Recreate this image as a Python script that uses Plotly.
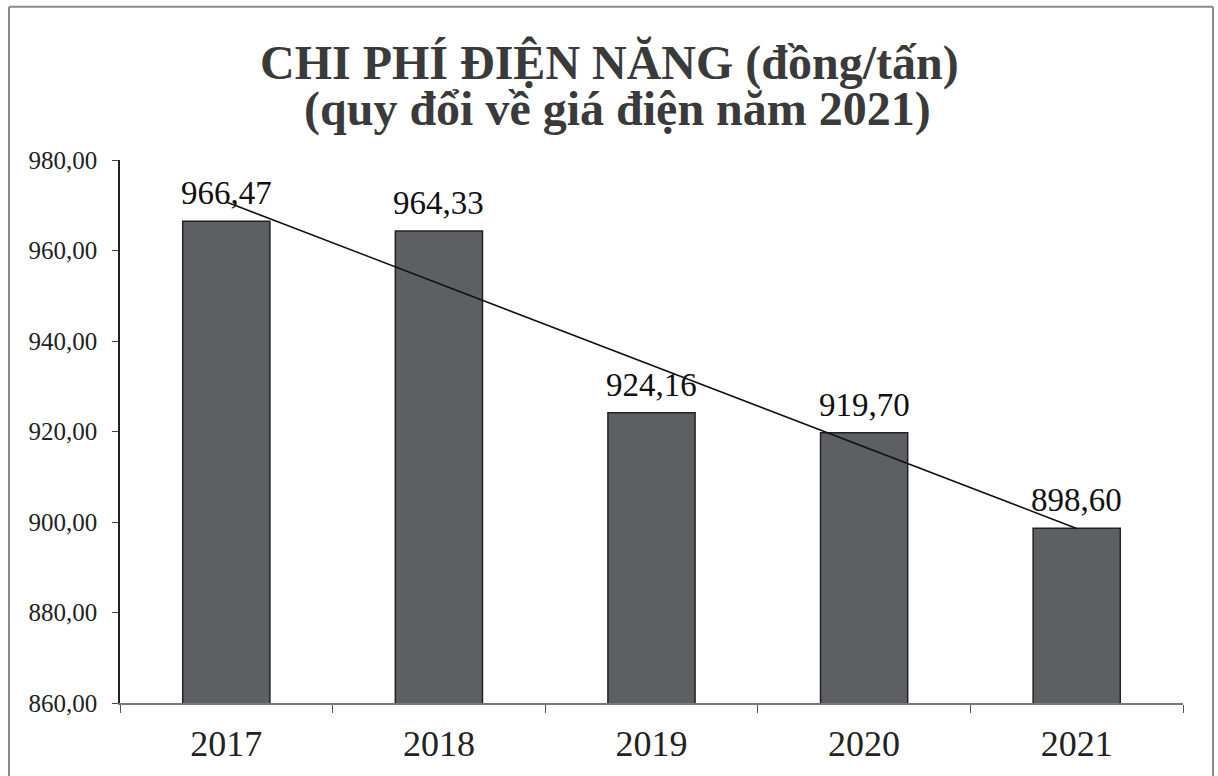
import numpy as np
import plotly.graph_objects as go

years = ["2017", "2018", "2019", "2020", "2021"]
values = [966.47, 964.33, 924.16, 919.70, 898.60]
y_ticks = [860, 880, 900, 920, 940, 960, 980]
title_line1 = "CHI PHÍ ĐIỆN NĂNG (đồng/tấn)"
title_line2 = "(quy đổi về giá điện năm 2021)"

# linear trend line fitted to the data
xi = np.arange(len(values))
slope, intercept = np.polyfit(xi, values, 1)
trend = list(slope * xi + intercept)

W, H = 1218, 776
L, R, T, B = 120, 1183, 160, 706

def px_x(p):
    return (p - L) / (R - L)

def px_y(p):
    return (B - p) / (B - T)

fig = go.Figure()
fig.add_trace(go.Bar(
    x=years, y=values, width=0.41,
    marker=dict(color="#5d5f62", line=dict(color="#222222", width=1.5)),
    showlegend=False,
))
fig.add_trace(go.Scatter(
    x=years, y=trend, mode="lines",
    line=dict(color="#111111", width=1.5),
    showlegend=False, hoverinfo="skip",
))

annotations = []
for i, v in enumerate(values):
    annotations.append(dict(
        x=i, y=v, xref="x", yref="y", text=f"{v:.2f}".replace(".", ","),
        showarrow=False, yanchor="bottom", yshift=8,
        font=dict(family="Liberation Serif", size=33, color="#111111"),
    ))

title_font = dict(family="Liberation Serif", size=48, color="#3a3a3a", weight="bold")
annotations.append(dict(x=px_x(609), xref="paper", y=px_y(62), yref="paper", text=title_line1,
                        showarrow=False, xanchor="center", yanchor="middle", font=title_font))
annotations.append(dict(x=px_x(617), xref="paper", y=px_y(109), yref="paper", text=title_line2,
                        showarrow=False, xanchor="center", yanchor="middle", font=title_font))

frame = dict(color="#8a8a8a", width=2)
shapes = [
    dict(type="line", xref="paper", yref="paper", x0=px_x(9), x1=px_x(9), y0=px_y(6), y1=px_y(780), line=frame),
    dict(type="line", xref="paper", yref="paper", x0=px_x(9), x1=px_x(1213), y0=px_y(6), y1=px_y(6), line=frame),
    dict(type="line", xref="paper", yref="paper", x0=px_x(1213), x1=px_x(1213), y0=px_y(6), y1=px_y(780), line=frame),
]

fig.update_layout(
    width=W, height=H,
    margin=dict(l=L, r=W - R, t=T, b=H - B),
    paper_bgcolor="white", plot_bgcolor="white",
    separators=",.",
    bargap=0.59,
    xaxis=dict(
        type="category", showgrid=False, showline=True, linecolor="#777777", linewidth=1.5,
        ticks="outside", tickson="boundaries", ticklen=8, tickcolor="#555555",
        tickfont=dict(family="Liberation Serif", size=36, color="#222222"),
        ticklabelstandoff=8,
        range=[-0.5, 4.5],
    ),
    yaxis=dict(
        range=[860, 980], tickvals=y_ticks, tickformat=".2f",
        showgrid=False, showline=True, linecolor="#222222", linewidth=1.5,
        ticks="outside", ticklen=6, tickcolor="#444444",
        tickfont=dict(family="Liberation Serif", size=25, color="#222222"),
        ticklabelstandoff=10,
        zeroline=False,
    ),
    shapes=shapes,
    annotations=annotations,
    font=dict(family="Liberation Serif"),
)

fig.write_html("out.html", config={"displayModeBar": False},
               post_script="document.body.style.margin='0';")
